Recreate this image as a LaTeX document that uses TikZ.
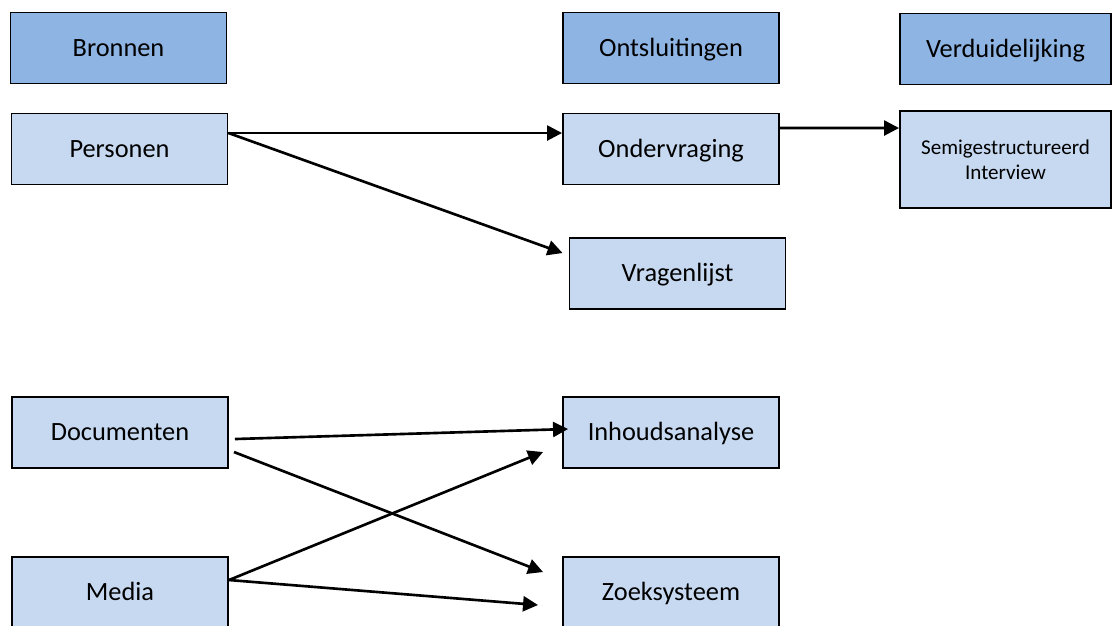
\documentclass[tikz,border=0pt]{standalone}
\usepackage{fontspec}
\setmainfont{Carlito}
\usetikzlibrary{arrows.meta}

\definecolor{headblue}{HTML}{8EB4E3}
\definecolor{itemblue}{HTML}{C6D9F1}

\begin{document}
\begin{tikzpicture}[
        head/.style={draw=black, line width=0.55pt, fill=headblue, minimum width=2.16cm, minimum height=0.71cm, inner sep=0pt, text height=4.8pt, text depth=0pt, font=\fontsize{7.5}{9}\selectfont},
        item/.style={draw=black, line width=0.55pt, fill=itemblue, minimum width=2.16cm, minimum height=0.71cm, inner sep=0pt, text height=4.8pt, text depth=0pt, font=\fontsize{7.5}{9}\selectfont},
        link/.style={line width=0.75pt, color=black, arrows=-{Triangle[length=1.5mm, width=1.5mm]}}
    ]
        % Frame:
        \useasboundingbox (0, 0) rectangle (11.12, -6.25);

        % Headers:
        \node[head] (bron) at (1.185, -0.48) {Bronnen};
        \node[head] (ontsl) at (6.71, -0.48) {Ontsluitingen};
        \node[head, minimum width=2.11cm] (verd) at (10.055, -0.49) {Verduidelijking};

        % Sources:
        \node[item] (pers) at (1.195, -1.49) {Personen};
        \node[item] (doc) at (1.2, -4.325) {Documenten};
        \node[item] (media) at (1.2, -5.925) {Media};

        % Methods:
        \node[item] (ondv) at (6.71, -1.49) {Ondervraging};
        \node[item] (vrag) at (6.775, -2.735) {Vragenlijst};
        \node[item] (inh) at (6.71, -4.325) {Inhoudsanalyse};
        \node[item] (zoek) at (6.71, -5.925) {Zoeksysteem};

        % Explanation:
        \node[item, minimum width=2.11cm, minimum height=0.97cm, text height=, text depth=, align=center, font=\fontsize{6}{7.2}\selectfont] (semi) at (10.055, -1.595) {Semigestructureerd\\Interview};

        % Arrows
        \draw[link] ([yshift=1.6mm]pers.east) -- ([yshift=1.6mm]ondv.west);
        \draw[link] ([yshift=1.6mm]pers.east) -- ([xshift=-0.6mm, yshift=2.05mm]vrag.west);
        \draw[link] ([yshift=2.1mm]ondv.east) -- ([yshift=3.15mm]semi.west);
        \draw[link] ([xshift=0.6mm, yshift=-0.65mm]doc.east) -- ([xshift=0.6mm, yshift=0.35mm]inh.west);
        \draw[link] ([xshift=0.5mm, yshift=-1.95mm]doc.east) -- ([xshift=-1.9mm, yshift=2.05mm]zoek.west);
        \draw[link] ([yshift=1.25mm]media.east) -- ([xshift=-1.9mm, yshift=-1.95mm]inh.west);
        \draw[link] ([yshift=1.25mm]media.east) -- ([xshift=-2.4mm, yshift=-1.25mm]zoek.west);
    \end{tikzpicture}
\end{document}
